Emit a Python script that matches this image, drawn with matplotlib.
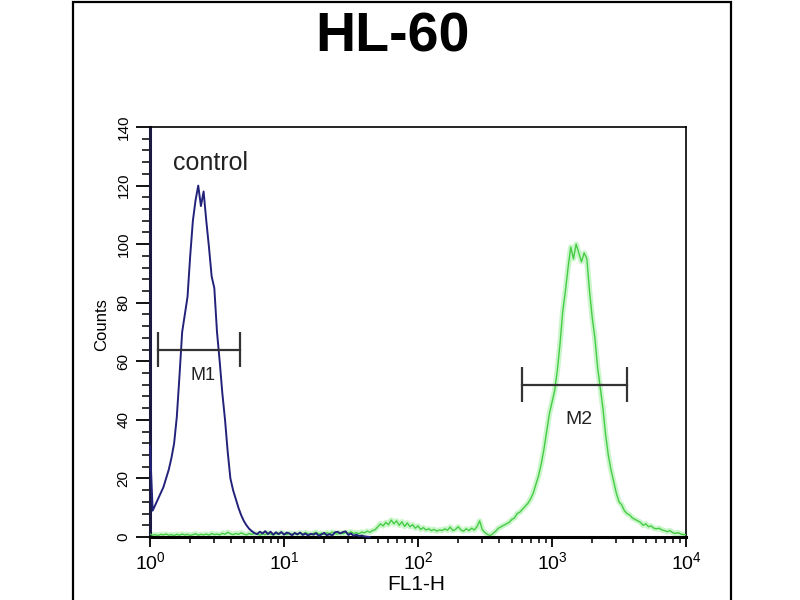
import numpy as np
import matplotlib
matplotlib.use("Agg")
import matplotlib.pyplot as plt
from matplotlib.ticker import AutoMinorLocator, LogLocator, NullFormatter
from matplotlib.patches import Rectangle

# ---------------- data (counts per channel, channels every 0.02 decade) -------------
channel_step = 0.02  # decades per channel

control_counts = [31, 9, 11, 13, 15, 17, 20, 23, 27, 32,
                  41, 55, 70, 76, 82, 96, 108, 115, 120, 113,
                  118, 108, 99, 89, 85, 70, 60, 49, 40, 29,
                  20, 16, 13, 10, 7.5, 5.5, 4, 2.8, 2, 1.3,
                  1, 1.8, 1.2, 2, 1, 1.8, 0.8, 1.6, 1, 1.7,
                  0.8, 1.5, 1.2, 0.6, 1.4, 0.9, 1.5, 0.7, 1.2, 0.5,
                  1.1, 0.8, 1.3, 0.4, 0.9, 1.4, 0.6, 1, 0.5, 1.6,
                  1.8, 1.2, 1.7, 1.9, 0.7, 1.2, 0.4, 0.8, 0.3, 0.5,
                  0.2, 0.1, 0]

sample_low = [1.0, 0.6, 0.8, 0.5, 0.9, 0.7, 1.0, 0.6, 0.8, 0.5,
              0.9, 0.6, 1.0, 0.7, 0.9, 0.5, 0.8, 1.1, 0.6, 0.9,
              0.7, 1.0, 0.6, 1.2, 0.8, 1.0, 0.7, 1.3, 0.9, 1.6,
              1.1, 0.8, 1.2, 0.9, 1.4, 1.0, 0.7, 1.2, 0.9, 1.3,
              1.0, 0.6, 1.1, 0.8, 1.4, 1.0, 0.7, 1.2, 0.9, 1.5,
              1.1, 0.8, 1.3, 0.9, 1.2, 0.8, 1.4, 1.0, 1.5, 1.1,
              0.8, 1.3, 1.6, 1.0, 1.3, 0.9, 1.5, 1.1, 1.7, 1.2,
              1.0, 1.4, 1.1, 1.6, 1.3, 1.8, 1.2, 1.5, 1.1, 1.7,
              1.4, 2.0, 1.6, 2.2]
sample_bump = [2.5, 3.5, 4.5, 3.8, 5, 4.2, 5.8, 4.5, 5.5, 4,
               5.2, 3.6, 4.8, 3.5, 4.2, 3, 3.8, 2.6, 3.2, 2.4,
               2.8, 2.2, 2.6, 2, 2.4, 2.2, 2.8, 2.3, 3.4, 2.2,
               2.6, 3.5, 2.4, 2, 2.8, 2.2, 3, 2.4, 3.5, 5.5,
               2.5, 1.5, 0.8, 0.5, 1.2]
sample_main = [2, 3, 3.5, 4, 4.5, 5, 6, 6.5, 8, 8.5,
               9.5, 10.5, 11.5, 13, 15, 18, 21, 25, 30, 36,
               42, 46, 50, 57, 66, 77, 84, 92, 99, 95,
               100, 97, 94, 97, 95, 84, 75, 68, 58, 51,
               44, 35, 28, 23, 19, 15, 12, 11, 9, 8,
               7.5, 6.5, 6, 5.5, 5, 4, 4.5, 3.5, 3.8, 3,
               2.8, 3, 2.4, 2.2, 1.8, 2.2, 1.5, 1.2, 1.5, 1,
               0.8, 0.8]
sample_counts = sample_low + sample_bump + sample_main

m1_range = [1.15, 4.67]
m1_level = 64
m2_range = [597, 3600]
m2_level = 52
marker_cap = 6

x_ticks = [1, 10, 100, 1000, 10000]
y_ticks = [0, 20, 40, 60, 80, 100, 120, 140]

title = "HL-60"
xlabel = "FL1-H"
ylabel = "Counts"

# ---------------- drawing -------------
regular = ["Liberation Sans", "DejaVu Sans"]
plt.rcParams["font.family"] = regular

fig = plt.figure(figsize=(8, 6), dpi=100)
fig.patch.set_facecolor("white")
ax = fig.add_axes([0.1875, 0.105, 0.670, 0.6833])

cx = 10 ** (np.arange(len(control_counts)) * channel_step)
sx = 10 ** (np.arange(len(sample_counts)) * channel_step)

ax.plot(sx, sample_counts, color="#c6f5c6", lw=4, alpha=0.9, zorder=2, solid_joinstyle="round")
ax.plot(sx, sample_counts, color="#45cc45", lw=1.0, zorder=3)
ax.plot(cx, control_counts, color="#22227a", lw=1.4, zorder=4, clip_on=False)

mk = "#333333"
ax.plot(m1_range, [m1_level] * 2, color=mk, lw=1.6, zorder=5)
ax.vlines(m1_range, m1_level - marker_cap, m1_level + marker_cap, color=mk, lw=1.6, zorder=5)
ax.plot(m2_range, [m2_level] * 2, color=mk, lw=1.6, zorder=5)
ax.vlines(m2_range, m2_level - marker_cap, m2_level + marker_cap, color=mk, lw=1.6, zorder=5)
ax.text(2.48, 55, "M1", ha="center", va="center", fontsize=13, color="#222222", zorder=6)
ax.text(1600, 40, "M2", ha="center", va="center", fontsize=14, color="#222222", zorder=6)
ax.text(2.82, 127.6, "control", ha="center", va="center", fontsize=18,
        color="#222222", zorder=6)

ax.set_xscale("log")
ax.set_xlim(1, 1e4)
ax.set_ylim(0, 140)
ax.set_xticks(x_ticks)
ax.xaxis.set_minor_locator(LogLocator(base=10, subs=np.arange(2, 10)))
ax.xaxis.set_minor_formatter(NullFormatter())
ax.set_yticks(y_ticks)
ax.yaxis.set_minor_locator(AutoMinorLocator(5))

ax.tick_params(axis="x", which="major", direction="out", length=7, width=1.3,
               labelsize=14, pad=3)
ax.tick_params(axis="x", which="minor", direction="out", length=4, width=1.1)
ax.tick_params(axis="y", which="major", direction="out", length=10, width=1.3,
               labelsize=11, pad=4, labelrotation=90)
ax.tick_params(axis="y", which="minor", direction="out", length=6, width=1.1)
for lab in ax.get_yticklabels():
    lab.set_va("center")

for s in ["left", "bottom"]:
    ax.spines[s].set_linewidth(2.2)
for s in ["top", "right"]:
    ax.spines[s].set_linewidth(1.2)
ax.spines["left"].set_color("#1a1a40")

fig.text(0.49, 1 - 52 / 600, title, ha="center", va="baseline", fontsize=40,
         fontweight="bold")
fig.text(416 / 800, 1 - 585 / 600, xlabel, ha="center", va="center", fontsize=15)
fig.text(101.7 / 800, 1 - 325 / 600, ylabel, ha="center", va="center", fontsize=12,
         rotation=90)

fig.add_artist(Rectangle((73 / 800, -0.02), (731 - 73) / 800, 0.02 + 1 - 2 / 600,
                         transform=fig.transFigure, fill=False, lw=1.6,
                         edgecolor="black"))

fig.savefig("out.png", dpi=100, facecolor="white")
